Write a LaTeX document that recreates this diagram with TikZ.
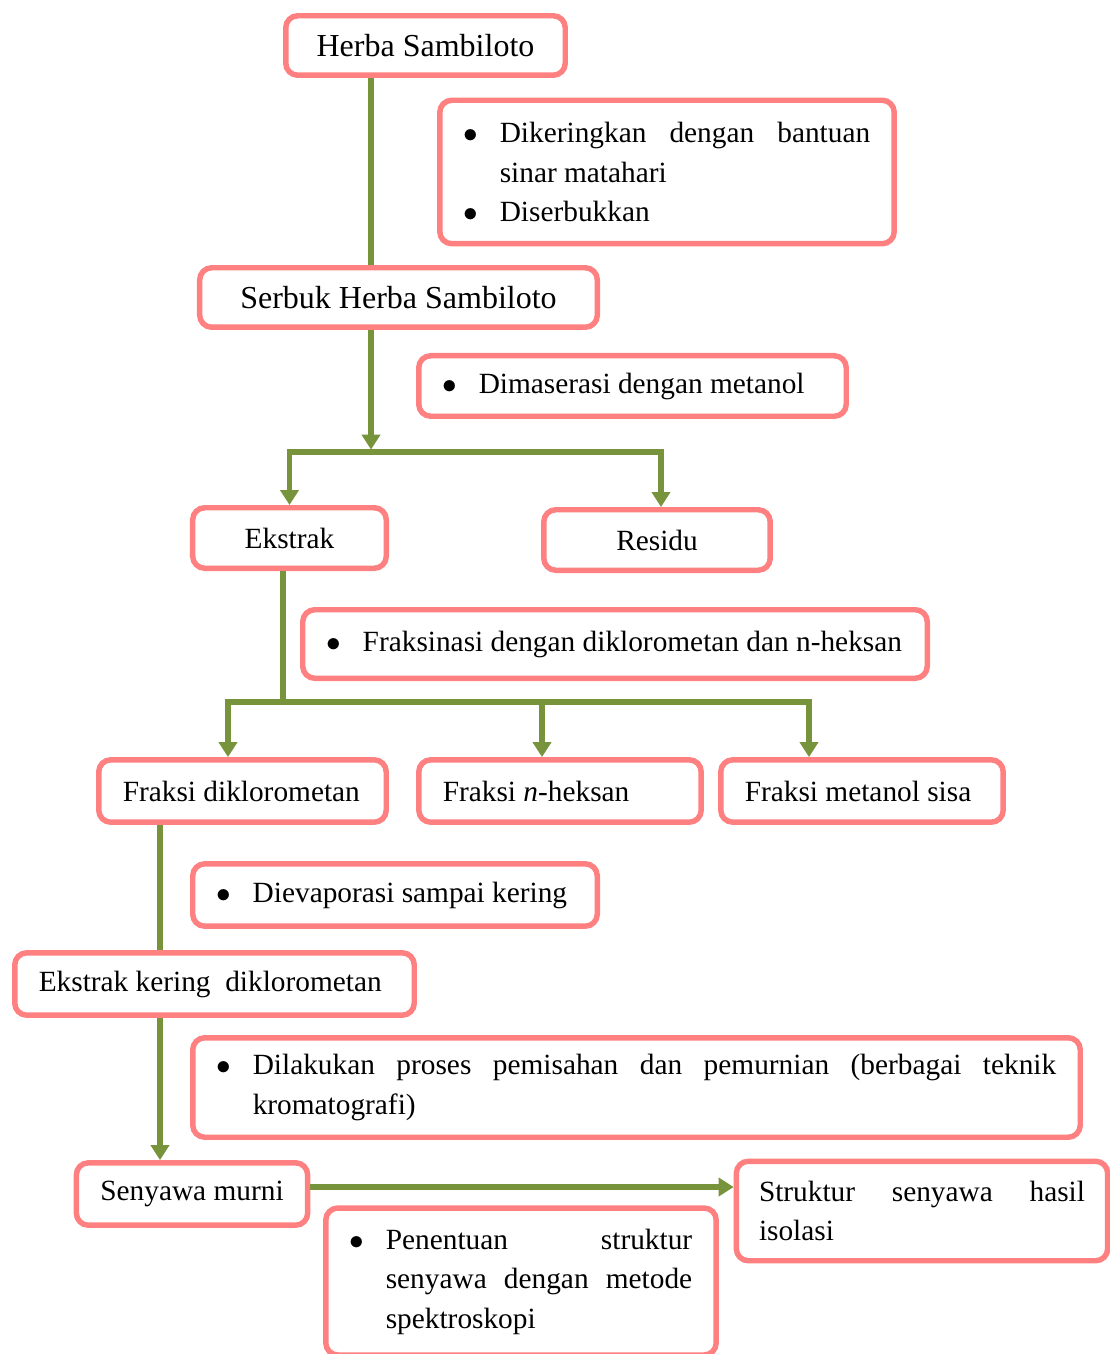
\documentclass[tikz,border=0pt]{standalone}
\usepackage{fontspec}
\setmainfont{Liberation Serif}
\usetikzlibrary{arrows.meta}
\definecolor{boxpink}{HTML}{FF8080}
\definecolor{flowgreen}{HTML}{77933C}
\hyphenpenalty=10000
\exhyphenpenalty=10000
\newcommand{\butir}[1]{\noindent\hangindent=13.5pt\hangafter=1\makebox[13.5pt][l]{$\bullet$}#1\par}
\begin{document}
\begin{tikzpicture}[x=0.375pt,y=-0.375pt]
\tikzstyle{box}=[draw=boxpink,line width=2.05pt,rounded corners=4.5pt,fill=white,inner xsep=9pt,inner ysep=0pt,font=\fontsize{11}{14.8}\selectfont]
\tikzstyle{big}=[font=\fontsize{12}{14.8}\selectfont]
\tikzstyle{flow}=[draw=flowgreen,line width=1.9pt]
\tikzstyle{tip}=[-{Triangle[length=5.6pt,width=6.75pt]}]
\fill[white] (0,0) rectangle (1110,1354);
\useasboundingbox (0,0) rectangle (1110,1354);
\node[box,big,minimum width=104.8pt,minimum height=22.3pt] (herba) at (425.5,45.5) {Herba Sambiloto};
\node[box,align=justify,text width=152.4pt,minimum height=53.8pt] (ket1) at (667,172) {\butir{Dikeringkan dengan bantuan\linebreak sinar matahari}\butir{Diserbukkan}};
\node[box,big,minimum width=149.1pt,minimum height=22.3pt] (serbuk) at (398.5,297.5) {Serbuk Herba Sambiloto};
\node[box,align=justify,text width=142.3pt,minimum height=22.7pt] (ket2) at (632.5,386) {\butir{Dimaserasi dengan metanol}};
\node[box,minimum width=72.6pt,minimum height=22.7pt] (ekstrak) at (289.5,538) {Ekstrak};
\node[box,minimum width=84.9pt,minimum height=22.7pt] (residu) at (657,540) {Residu};
\node[box,align=justify,text width=216.2pt,minimum height=25.7pt] (ket3) at (615,644) {\butir{Fraksinasi dengan diklorometan dan n-heksan}};
\node[box,align=justify,text width=89.8pt,minimum height=23.4pt] (fdk) at (242.5,791) {Fraksi diklorometan};
\node[box,align=justify,text width=87.9pt,minimum height=23.4pt] (fnh) at (560,791) {Fraksi \textit{n}-heksan};
\node[box,align=justify,text width=87.9pt,minimum height=23.4pt] (fmet) at (862,791) {Fraksi metanol sisa};
\node[box,align=justify,text width=133.7pt,minimum height=23.4pt] (ket4) at (395,895) {\butir{Dievaporasi sampai kering}};
\node[box,align=justify,text width=131.8pt,minimum height=23.4pt] (eker) at (214.5,984) {Ekstrak kering~ diklorometan};
\node[box,align=justify,text width=314.8pt,minimum height=37.3pt] (ket5) at (636.5,1087.5) {\butir{Dilakukan proses pemisahan dan pemurnian (berbagai teknik\linebreak kromatografi)}};
\node[box,minimum width=86.4pt,minimum height=23.4pt] (senyawa) at (192,1194) {Senyawa murni};
\node[box,align=justify,text width=128.4pt,minimum height=55.1pt] (ket6) at (521,1281.5) {\butir{Penentuan struktur\linebreak senyawa dengan metode\linebreak spektroskopi}};
\node[box,align=justify,inner xsep=8.5pt,text width=122.25pt,minimum height=37.3pt] (struktur) at (922,1211) {Struktur senyawa hasil\linebreak isolasi\par};
\coordinate (j1) at (371,452);
\coordinate (r1) at (661,452);
\coordinate (j2) at (283,702);
\coordinate (b1) at (228,702);
\coordinate (b2) at (542,702);
\coordinate (b3) at (809,702);
\coordinate (v1) at (160,0);
\coordinate (h1) at (0,1187);
\draw[flow] (herba.south -| j1) -- (serbuk.north -| j1);
\draw[flow,tip,shorten >=0.9pt] (serbuk.south -| j1) -- (j1);
\draw[flow,tip] (j1) -| (ekstrak.north);
\draw[flow,tip] (j1) -| (residu.north -| r1);
\draw[flow] (ekstrak.south -| j2) -- (j2);
\draw[flow,tip] (j2) -| (fdk.north -| b1);
\draw[flow,tip] (j2) -| (fmet.north -| b3);
\draw[flow,tip] (b2) -- (fnh.north -| b2);
\draw[flow] (fdk.south -| v1) -- (eker.north -| v1);
\draw[flow,tip] (eker.south -| v1) -- (senyawa.north -| v1);
\draw[flow,tip] (senyawa.east |- h1) -- (struktur.west |- h1);
\end{tikzpicture}
\end{document}
